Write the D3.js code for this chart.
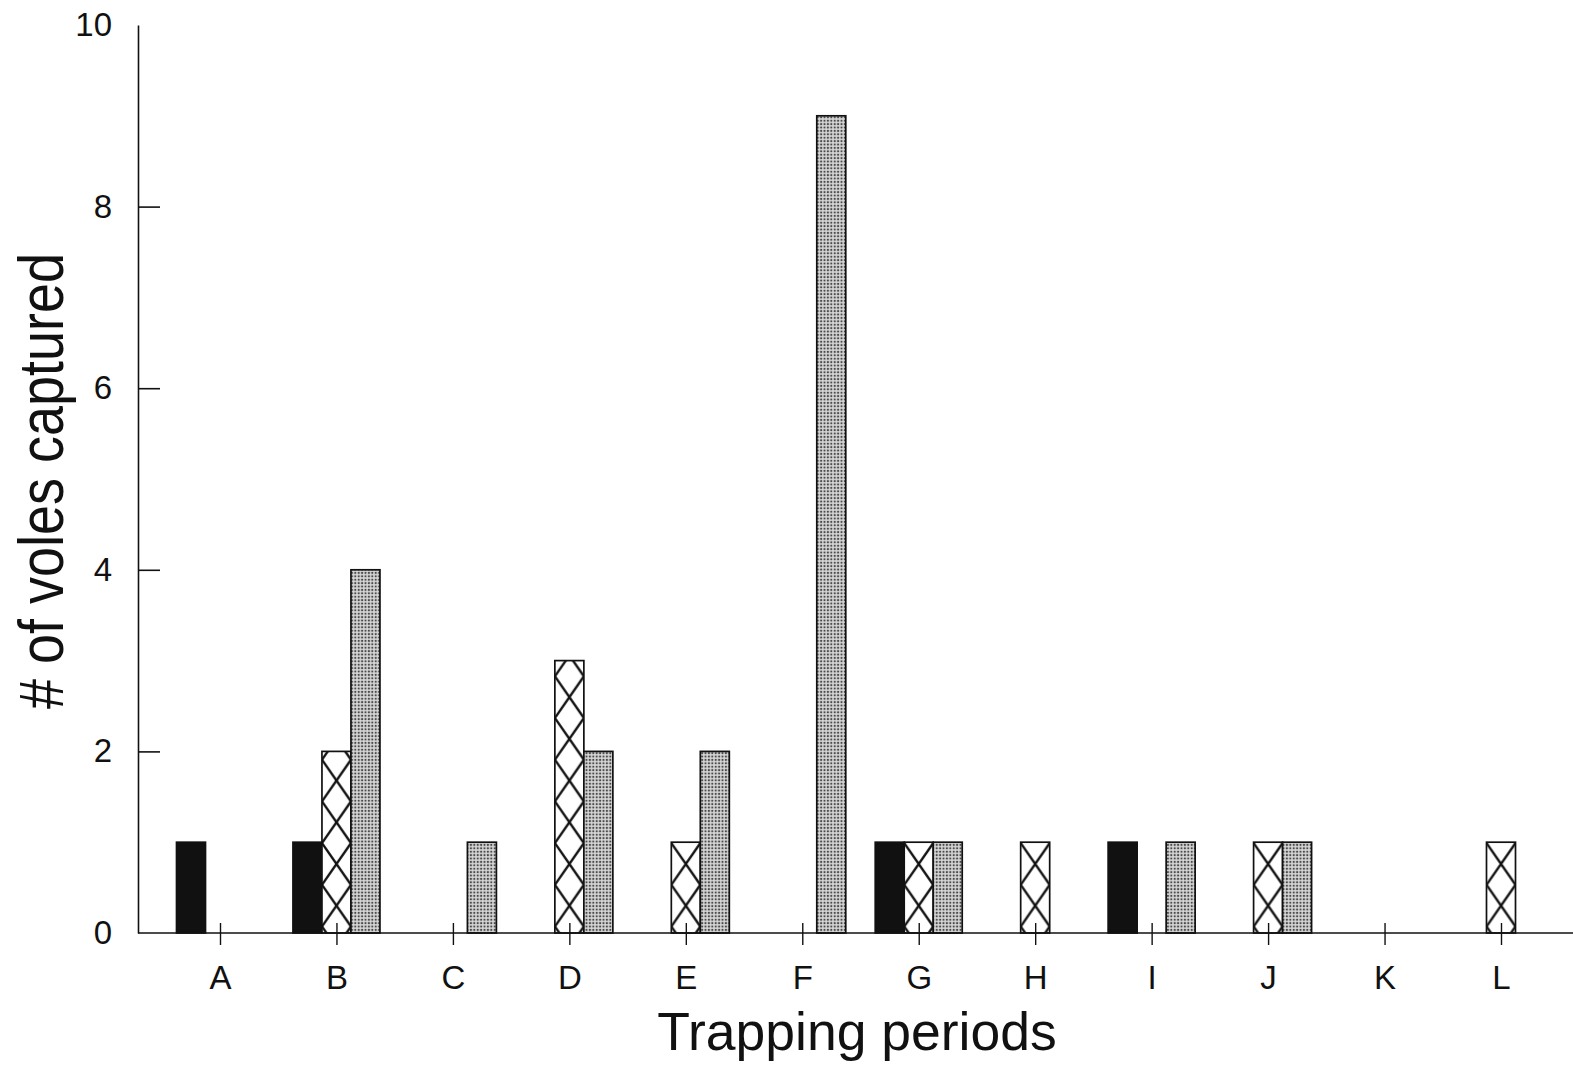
<!DOCTYPE html>
<html>
<head>
<meta charset="utf-8">
<script src="https://cdn.jsdelivr.net/npm/d3@7"></script>
<style>
  html, body { margin: 0; padding: 0; background: #fff; }
  svg { display: block; }
  text { font-family: "Liberation Sans", Arial, Helvetica, sans-serif; fill: #111; }
</style>
</head>
<body>
<svg id="svg_voles"></svg>
<script>
const periods = ['A', 'B', 'C', 'D', 'E', 'F', 'G', 'H', 'I', 'J', 'K', 'L'];
const seriesNames = ['solid', 'hatched', 'stippled'];
const solidCounts = [1, 1, 0, 0, 0, 0, 1, 0, 1, 0, 0, 0];
const hatchedCounts = [0, 2, 0, 3, 1, 0, 1, 1, 0, 1, 0, 1];
const stippledCounts = [0, 4, 1, 2, 2, 9, 1, 0, 1, 1, 0, 0];
const yTicks = [0, 2, 4, 6, 8, 10];

const width = 1573;
const height = 1068;

const bars = [];
periods.forEach((p, i) => {
  bars.push({ period: p, series: 'solid', count: solidCounts[i] });
  bars.push({ period: p, series: 'hatched', count: hatchedCounts[i] });
  bars.push({ period: p, series: 'stippled', count: stippledCounts[i] });
});

const svg = d3.select('#svg_voles')
  .attr('width', width)
  .attr('height', height);

const xscale = d3.scalePoint()
  .domain(periods)
  .range([220, 1501]);

const inner = d3.scaleBand()
  .domain(seriesNames)
  .range([-43.5, 43.5])
  .padding(0);

const yscale = d3.scaleLinear()
  .domain([0, 10])
  .range([933, 25]);

const bw = inner.bandwidth();
const step = xscale.step();

// fill patterns
const defs = svg.append('defs');

const stip = defs.append('pattern')
  .attr('id', 'stipple')
  .attr('patternUnits', 'userSpaceOnUse')
  .attr('width', 3.4)
  .attr('height', 3.4);
stip.append('rect').attr('width', 3.4).attr('height', 3.4).attr('fill', '#d6d6d6');
stip.append('circle').attr('cx', 1.7).attr('cy', 1.7).attr('r', 1.1).attr('fill', '#4a4a4a');

const hatchH = 41.7;
const hatch = defs.append('pattern')
  .attr('id', 'hatch')
  .attr('patternUnits', 'userSpaceOnUse')
  .attr('x', xscale(periods[0]) + inner('hatched'))
  .attr('y', yscale(0) - 6.5)
  .attr('width', step)
  .attr('height', hatchH);
hatch.append('rect').attr('width', step).attr('height', hatchH).attr('fill', '#fff');
hatch.append('path')
  .attr('d', `M0,0L${bw},${hatchH}M${bw},0L0,${hatchH}`)
  .attr('stroke', '#111')
  .attr('stroke-width', 2.4)
  .attr('fill', 'none');

const fills = { solid: '#111', hatched: 'url(#hatch)', stippled: 'url(#stipple)' };

// bars
svg.append('g')
  .selectAll('rect')
  .data(bars.filter((d) => d.count > 0))
  .enter()
  .append('rect')
  .attr('x', (d) => xscale(d.period) + inner(d.series))
  .attr('y', (d) => yscale(d.count))
  .attr('width', bw)
  .attr('height', (d) => yscale(0) - yscale(d.count))
  .attr('fill', (d) => fills[d.series])
  .attr('stroke', '#111')
  .attr('stroke-width', 1.7);

// y axis
const leftAxis = d3.axisLeft(yscale)
  .tickValues(yTicks)
  .tickSizeInner(-22)
  .tickSizeOuter(0)
  .tickPadding(26);

const yAxisG = svg.append('g')
  .attr('transform', 'translate(138, 0)')
  .call(leftAxis);
yAxisG.selectAll('path, line').attr('stroke', '#111').attr('stroke-width', 1.6);
yAxisG.selectAll('line').filter((d) => d === 0 || d === 10).remove();
yAxisG.selectAll('text')
  .attr('font-size', 33)
  .attr('font-family', '"Liberation Sans", Arial, sans-serif')
  .attr('fill', '#111');

// x axis
const bottomAxis = d3.axisBottom(xscale)
  .tickSizeInner(12)
  .tickSizeOuter(0)
  .tickPadding(21);

const xAxisG = svg.append('g')
  .attr('transform', `translate(0, ${yscale(0)})`)
  .call(bottomAxis);
xAxisG.select('.domain').remove();
xAxisG.selectAll('line').attr('y1', -10).attr('stroke', '#111').attr('stroke-width', 1.4);
xAxisG.selectAll('text')
  .attr('font-size', 33)
  .attr('font-family', '"Liberation Sans", Arial, sans-serif')
  .attr('fill', '#111');

svg.append('line')
  .attr('x1', 138)
  .attr('x2', width)
  .attr('y1', yscale(0))
  .attr('y2', yscale(0))
  .attr('stroke', '#111')
  .attr('stroke-width', 1.6);

// axis titles
svg.append('text')
  .text('Trapping periods')
  .attr('x', 857)
  .attr('y', 1050)
  .attr('text-anchor', 'middle')
  .attr('font-size', 53.5);

svg.append('text')
  .text('# of voles captured')
  .attr('transform', 'translate(63, 481) rotate(-90) scale(1, 1.15)')
  .attr('text-anchor', 'middle')
  .attr('font-size', 54);
</script>
</body>
</html>
